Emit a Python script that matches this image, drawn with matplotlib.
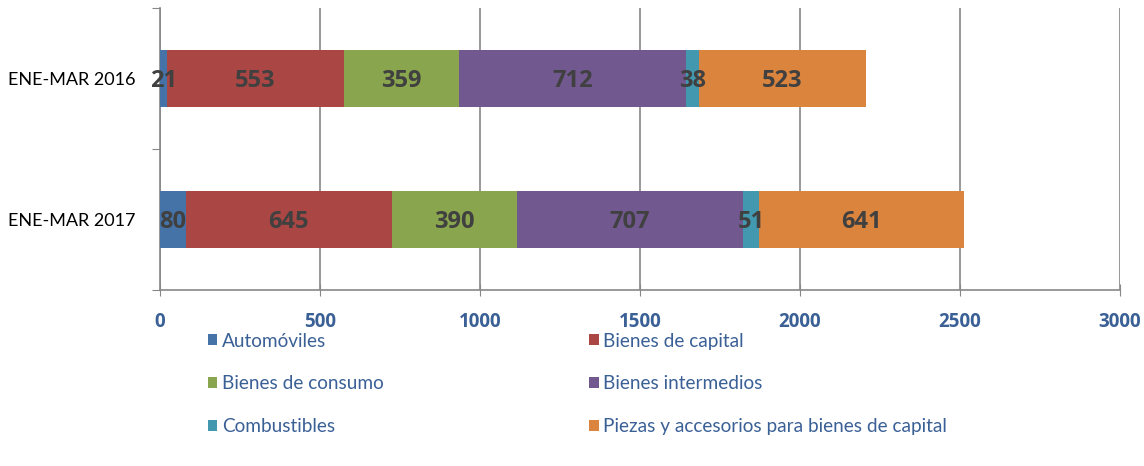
import matplotlib
matplotlib.use("Agg")
import matplotlib.pyplot as plt
from matplotlib.patches import Patch

categories = ["ENE-MAR 2016", "ENE-MAR 2017"]
series_names = ["Automóviles", "Bienes de capital", "Bienes de consumo",
                "Bienes intermedios", "Combustibles",
                "Piezas y accesorios para bienes de capital"]
automoviles = [21, 80]
bienes_capital = [553, 645]
bienes_consumo = [359, 390]
bienes_intermedios = [712, 707]
combustibles = [38, 51]
piezas = [523, 641]
values = [automoviles, bienes_capital, bienes_consumo,
          bienes_intermedios, combustibles, piezas]
colors = ["#4572A7", "#AA4643", "#89A54E", "#71588F", "#4198AF", "#DB843D"]
xticks = [0, 500, 1000, 1500, 2000, 2500, 3000]

plt.rcParams['font.family'] = ['Lato', 'DejaVu Sans']
BOLD = ['Open Sans', 'DejaVu Sans']

fig = plt.figure(figsize=(11.44, 4.66), dpi=100)
ax = fig.add_axes([160/1144, 1-290/466, (1120-160)/1144, (290-8)/466])

ypos = [0.5, 1.5]
left = [0, 0]
handles = []
for name, vals, col in zip(series_names, values, colors):
    bars = ax.barh(ypos, vals, left=left, height=0.4, color=col,
                   edgecolor='none', zorder=3)
    for b, v in zip(bars, vals):
        ax.text(b.get_x() + b.get_width()/2, b.get_y() + b.get_height()/2 + 0.02,
                str(v), ha='center', va='center', fontsize=17,
                fontweight='bold', family=BOLD, color='#404040', zorder=4)
    left = [l + v for l, v in zip(left, vals)]
    handles.append(Patch(facecolor=col, edgecolor='none', label=name))

ax.set_xlim(0, 3000)
ax.set_ylim(2, 0)
ax.set_xticks(xticks)
ax.set_xticklabels([str(t) for t in xticks], fontsize=13.5, fontweight='bold',
                   family=BOLD, color='#3A6096')
ax.set_yticks([0, 1, 2])
ax.set_yticklabels([])
ax.set_yticks(ypos, minor=True)
ax.set_yticklabels(categories, minor=True, fontsize=13, color='black')
ax.tick_params(axis='y', which='minor', length=0, pad=18)
ax.tick_params(axis='y', which='major', length=6, color='#888888', direction='out')
ax.tick_params(axis='x', length=8, color='#888888', direction='inout', pad=12)
ax.grid(axis='x', color='#888888', linewidth=1.2, zorder=0)
for s in ['top', 'right']:
    ax.spines[s].set_visible(False)
for s in ['left', 'bottom']:
    ax.spines[s].set_color('#888888')
    ax.spines[s].set_linewidth(1.2)

order = [0, 2, 4, 1, 3, 5]
leg = fig.legend([handles[i] for i in order], [series_names[i] for i in order],
                 ncol=2, loc='upper left', bbox_to_anchor=(200/1144, 1-325/466),
                 frameon=False, fontsize=13.7, handlelength=0.5, handleheight=0.5,
                 handletextpad=0.25, labelspacing=1.35, columnspacing=10.8,
                 borderaxespad=0)
for t in leg.get_texts():
    t.set_color('#3A6096')

fig.savefig("out.png", dpi=100)
